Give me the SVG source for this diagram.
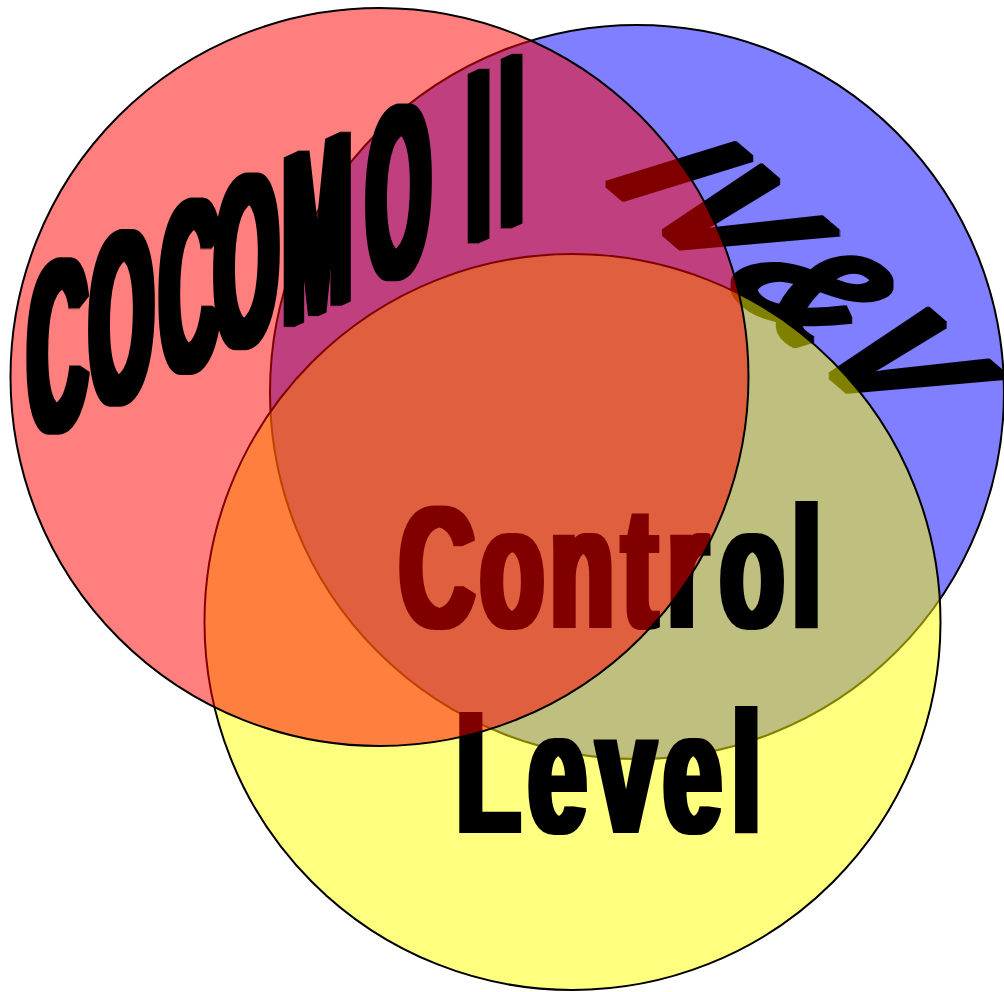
<svg xmlns="http://www.w3.org/2000/svg" width="1004" height="992" viewBox="0 0 1004 992">
<defs>
<style>
.c{stroke:#000;stroke-width:2;fill-opacity:0.5}
.t{font-family:"Liberation Sans",Arial,sans-serif;font-weight:bold;fill:#000}
</style>
<filter id="dCocomo" x="-0.1" y="-0.1" width="1.2" height="1.2"><feMorphology operator="dilate" radius="5 1"/></filter>
<filter id="dCtl" x="-0.1" y="-0.1" width="1.2" height="1.2"><feMorphology operator="dilate" radius="4 1"/></filter>
<filter id="dIvv" x="-0.1" y="-0.1" width="1.2" height="1.2"><feMorphology operator="dilate" radius="1 3"/></filter>
</defs>
<rect width="1004" height="992" fill="#fff"/>
<g id="connectors"/>
<g id="ivv">
<circle class="c" cx="637" cy="392" r="367" fill="#0000FF"/>
<g filter="url(#dIvv)"><text class="t" font-size="200" transform="matrix(0.6,0.515,-0.94,0.29,598,177)">IV&amp;V</text></g>
</g>
<g id="control-level">
<circle class="c" cx="572.5" cy="622" r="368" fill="#FFFF00"/>
<g filter="url(#dCtl)">
<text class="t" font-size="172" transform="translate(0,627) scale(0.61,1)" x="653.9 786.9 901.8 1020 1093.8 1180.3 1298.2">Control</text>
<text class="t" font-size="172" transform="translate(0,832) scale(0.61,1)" x="748 865.9 978.7 1087.2 1199.8">Level</text>
</g>
</g>
<g id="cocomo">
<circle class="c" cx="379.5" cy="377" r="369" fill="#FF0000"/>
<g filter="url(#dCocomo)"><text class="t" font-size="244" transform="matrix(0.335,-0.1518,0,1,0,457)" x="83.3 268.1 477.3 641.2 845.4 1094.9 1300 1394.6 1493.1">COCOMO II</text></g>
</g>
</svg>
